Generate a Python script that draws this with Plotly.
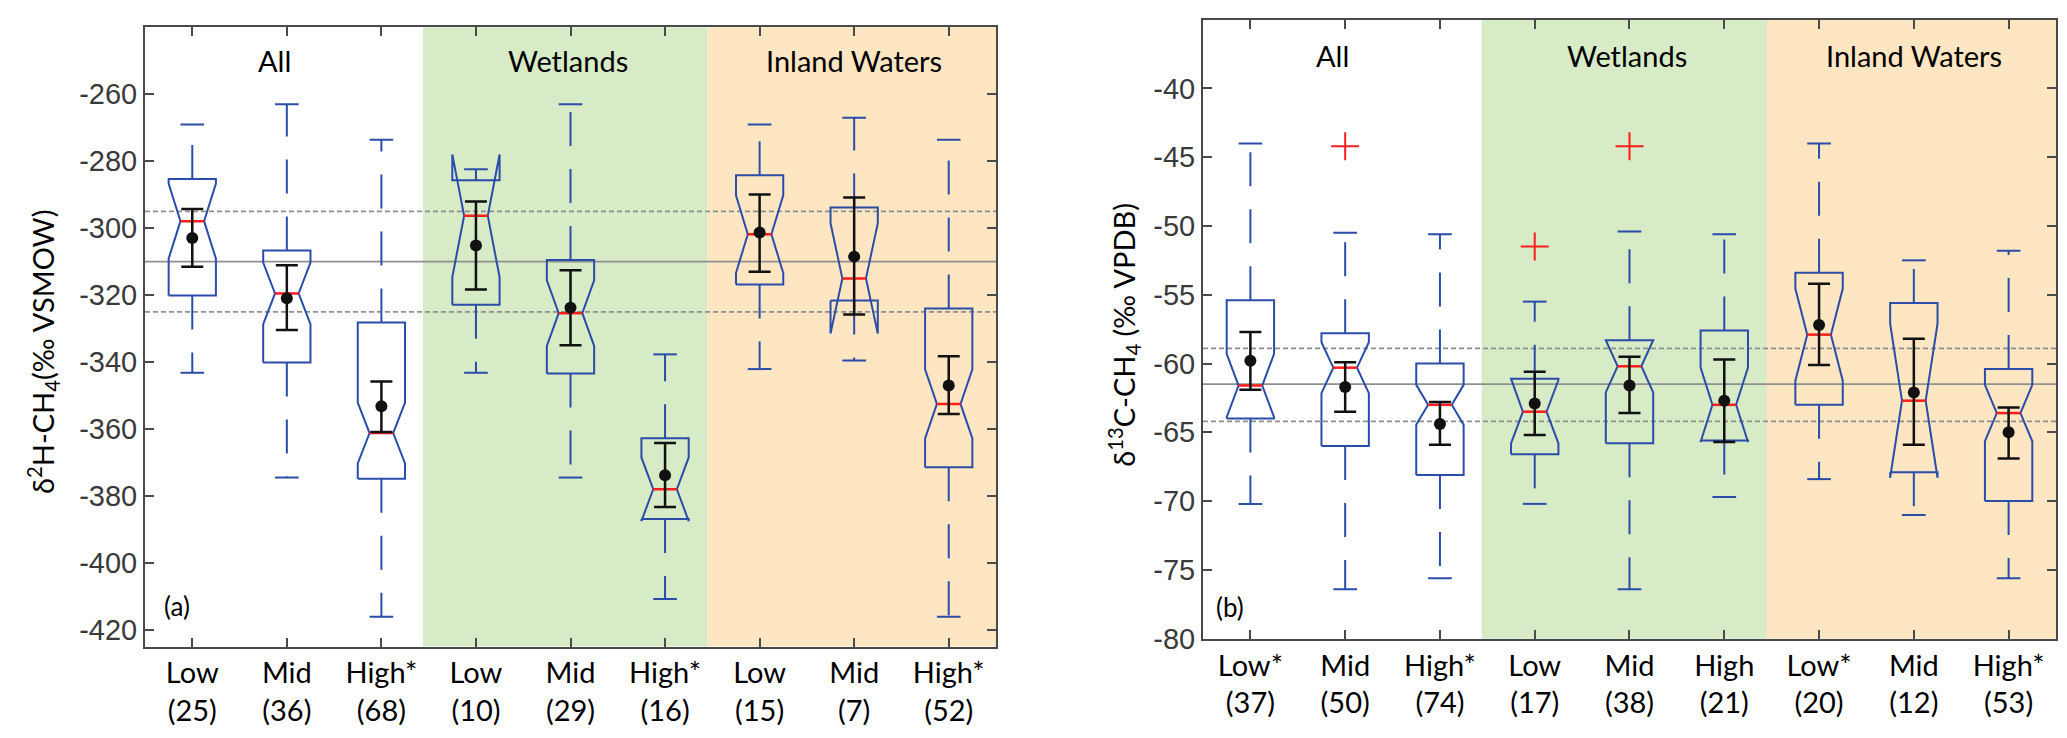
import plotly.graph_objects as go
from plotly.subplots import make_subplots

# category labels (x ticks)
labels_a = ["Low<br>(25)", "Mid<br>(36)", "High*<br>(68)", "Low<br>(10)", "Mid<br>(29)",
            "High*<br>(16)", "Low<br>(15)", "Mid<br>(7)", "High*<br>(52)"]
labels_b = ["Low*<br>(37)", "Mid<br>(50)", "High*<br>(74)", "Low<br>(17)", "Mid<br>(38)",
            "High<br>(21)", "Low*<br>(20)", "Mid<br>(12)", "High*<br>(53)"]
groups = ["All", "Wetlands", "Inland Waters"]
group_pos = [1.87, 4.97, 8.0]
band_edges = [3.44, 6.45, 9.5]
yticks_a = [-260, -280, -300, -320, -340, -360, -380, -400, -420]
yticks_b = [-40, -45, -50, -55, -60, -65, -70, -75, -80]

# (a) dD-CH4 box stats
q1_a = [-320.1, -340.1, -374.9, -322.9, -343.4, -386.9, -316.8, -321.6, -371.4]
q3_a = [-285.3, -306.7, -328.2, -285.7, -309.5, -362.8, -284.2, -293.8, -324.0]
med_a = [-297.9, -319.5, -361.2, -296.3, -325.4, -378.0, -301.8, -315.0, -352.5]
notch_a = [11.2, 9.2, 9.1, 18.3, 9.8, 9.5, 11.6, 16.5, 10.3]
wlo_a = [-343.2, -374.5, -416.1, -343.2, -374.5, -410.8, -342.1, -339.5, -416.1]
whi_a = [-269.0, -263.0, -273.6, -282.4, -263.0, -337.7, -269.0, -267.0, -273.6]
mean_a = [-302.9, -320.9, -353.2, -305.2, -323.8, -373.8, -301.3, -308.5, -347.0]
elo_a = [-311.5, -330.4, -360.9, -318.3, -335.0, -383.3, -313.0, -325.8, -355.5]
ehi_a = [-294.3, -311.1, -345.8, -292.0, -312.6, -364.2, -289.9, -290.8, -338.3]
out_x_a = []
out_y_a = []
ref_a = [-295, -310, -325]

# (b) d13C-CH4 box stats
q1_b = [-64.0, -66.0, -68.1, -66.6, -65.8, -65.6, -63.0, -67.9, -70.0]
q3_b = [-55.4, -57.8, -60.0, -61.1, -58.3, -57.6, -53.4, -55.6, -60.4]
med_b = [-61.6, -60.3, -63.0, -63.5, -60.2, -63.0, -57.9, -62.7, -63.6]
notch_b = [2.3, 1.85, 1.45, 2.3, 1.9, 2.7, 3.35, 5.6, 2.05]
wlo_b = [-70.2, -76.4, -75.6, -70.2, -76.4, -69.7, -68.4, -71.0, -75.6]
whi_b = [-44.0, -50.5, -50.6, -55.5, -50.4, -50.6, -44.0, -52.5, -51.8]
mean_b = [-59.8, -61.7, -64.4, -62.9, -61.6, -62.7, -57.2, -62.1, -65.0]
elo_b = [-61.9, -63.5, -65.9, -65.2, -63.6, -65.7, -60.1, -65.9, -66.9]
ehi_b = [-57.7, -59.9, -62.8, -60.6, -59.5, -59.7, -54.2, -58.2, -63.2]
out_x_b = [2, 4, 5]
out_y_b = [-44.2, -51.5, -44.2]
ref_b = [-58.9, -61.5, -64.2]

BLUE = "#2b4ca8"
RED = "#ff1c1c"
AXC = "#4a4a4a"
W, NW = 0.25, 0.125

fig = make_subplots(rows=1, cols=2)


def add_panel(col, q1, q3, med, notch, wlo, whi, mean, elo, ehi, ox, oy):
    pos = list(range(1, len(q1) + 1))
    # whiskers (dashed), drawn from the box outward
    wx, wy = [], []
    for x, a, b, c, d in zip(pos, q1, q3, wlo, whi):
        wx += [x, x, None, x, x, None]
        wy += [b, d, None, a, c, None]
    fig.add_trace(go.Scatter(x=wx, y=wy, mode='lines', hoverinfo='skip',
                             line=dict(color=BLUE, width=2, dash="34px,23px")), row=1, col=col)
    # whisker caps
    cx, cy = [], []
    for x, c, d in zip(pos, wlo, whi):
        cx += [x - NW, x + NW, None, x - NW, x + NW, None]
        cy += [d, d, None, c, c, None]
    fig.add_trace(go.Scatter(x=cx, y=cy, mode='lines', hoverinfo='skip',
                             line=dict(color=BLUE, width=2)), row=1, col=col)
    # notched boxes
    bx, by = [], []
    for x, a, b, m, n in zip(pos, q1, q3, med, notch):
        lo, hi = m - n, m + n
        bx += [x - W, x - W, x - NW, x - W, x - W, x + W, x + W, x + NW, x + W, x + W, x - W, None]
        by += [a, lo, m, hi, b, b, hi, m, lo, a, a, None]
    fig.add_trace(go.Scatter(x=bx, y=by, mode='lines', hoverinfo='skip',
                             line=dict(color=BLUE, width=2)), row=1, col=col)
    # medians
    mx, my = [], []
    for x, m in zip(pos, med):
        mx += [x - NW, x + NW, None]
        my += [m, m, None]
    fig.add_trace(go.Scatter(x=mx, y=my, mode='lines', hoverinfo='skip',
                             line=dict(color=RED, width=2.5)), row=1, col=col)
    # mean with error bars
    fig.add_trace(go.Scatter(x=pos, y=mean, mode='markers',
                             marker=dict(color="#111111", size=12),
                             error_y=dict(type='data', symmetric=False,
                                          array=[h - m for h, m in zip(ehi, mean)],
                                          arrayminus=[m - l for l, m in zip(elo, mean)],
                                          color="#111111", thickness=2.5, width=11)),
                  row=1, col=col)
    # outliers
    if ox:
        fig.add_trace(go.Scatter(x=ox, y=oy, mode='markers',
                                 marker=dict(symbol='cross-thin', size=20, color=RED,
                                             line=dict(color=RED, width=2))), row=1, col=col)


add_panel(1, q1_a, q3_a, med_a, notch_a, wlo_a, whi_a, mean_a, elo_a, ehi_a, out_x_a, out_y_a)
add_panel(2, q1_b, q3_b, med_b, notch_b, wlo_b, whi_b, mean_b, elo_b, ehi_b, out_x_b, out_y_b)

shapes = []
for xr, yr, refs in [("x", "y", ref_a), ("x2", "y2", ref_b)]:
    # background bands for Wetlands / Inland Waters
    for x0, x1, c in [(band_edges[0], band_edges[1], "#d6ebc6"),
                      (band_edges[1], band_edges[2], "#fde6c1")]:
        shapes.append(dict(type="rect", xref=xr, yref=yr + " domain", x0=x0, x1=x1, y0=0, y1=1,
                           fillcolor=c, line=dict(width=0), layer="below"))
    for v, d in zip(refs, ["dot", "solid", "dot"]):
        shapes.append(dict(type="line", xref=xr + " domain", yref=yr, x0=0, x1=1, y0=v, y1=v,
                           line=dict(color="#8f8f8f", width=1.8,
                                     dash="5px,3px" if d == "dot" else "solid"),
                           layer="below"))

annotations = []
for xr, yr, ytop, lab, lx, ly in [("x", "y", -250, "(a)", 0.84, -413),
                                  ("x2", "y2", -37.6, "(b)", 0.79, -77.7)]:
    for g, gx in zip(groups, group_pos):
        annotations.append(dict(text=g, x=gx, y=ytop, xref=xr, yref=yr, showarrow=False,
                                font=dict(family="Lato", size=29, color="black")))
    annotations.append(dict(text=lab, x=lx, y=ly, xref=xr, yref=yr, showarrow=False,
                            font=dict(family="Lato", size=26, color="black")))

annotations.append(dict(text="δ<sup>2</sup>H-CH<sub>4</sub>(‰ VSMOW)", x=35 / 2067, y=0.5236,
                        xref="paper", yref="paper", textangle=-90, showarrow=False,
                        xanchor="center", yanchor="middle",
                        font=dict(family="Lato", size=29, color="black")))
annotations.append(dict(text="δ<sup>13</sup>C-CH<sub>4</sub> (‰ VPDB)", x=1116 / 2067, y=0.5474,
                        xref="paper", yref="paper", textangle=-90, showarrow=False,
                        xanchor="center", yanchor="middle",
                        font=dict(family="Lato", size=29, color="black")))

axis_style = dict(showline=True, linecolor=AXC, linewidth=2, mirror="ticks",
                  ticks="inside", ticklen=9, tickwidth=2, tickcolor=AXC,
                  showgrid=False, zeroline=False)

fig.update_layout(
    width=2067, height=738,
    margin=dict(l=0, r=0, t=0, b=0),
    plot_bgcolor="white", paper_bgcolor="white",
    showlegend=False,
    shapes=shapes, annotations=annotations,
    xaxis=dict(axis_style, domain=[0.06628, 0.47799], range=[0.5, 9.5],
               tickvals=list(range(1, 10)), ticktext=labels_a,
               tickfont=dict(family="Lato", size=29, color="black")),
    xaxis2=dict(axis_style, domain=[0.57813, 0.99081], range=[0.5, 9.5],
                tickvals=list(range(1, 10)), ticktext=labels_b,
                tickfont=dict(family="Lato", size=29, color="black")),
    yaxis=dict(axis_style, domain=[0.11558, 0.97317], range=[-425, -240],
               tickvals=yticks_a, ticktext=[str(v) for v in yticks_a],
               tickfont=dict(family="Liberation Sans", size=29, color="#3a3a3a")),
    yaxis2=dict(axis_style, domain=[0.12642, 0.98401], range=[-80, -35],
                tickvals=yticks_b, ticktext=[str(v) for v in yticks_b],
                tickfont=dict(family="Liberation Sans", size=29, color="#3a3a3a")),
)

fig.write_html("out.html")
